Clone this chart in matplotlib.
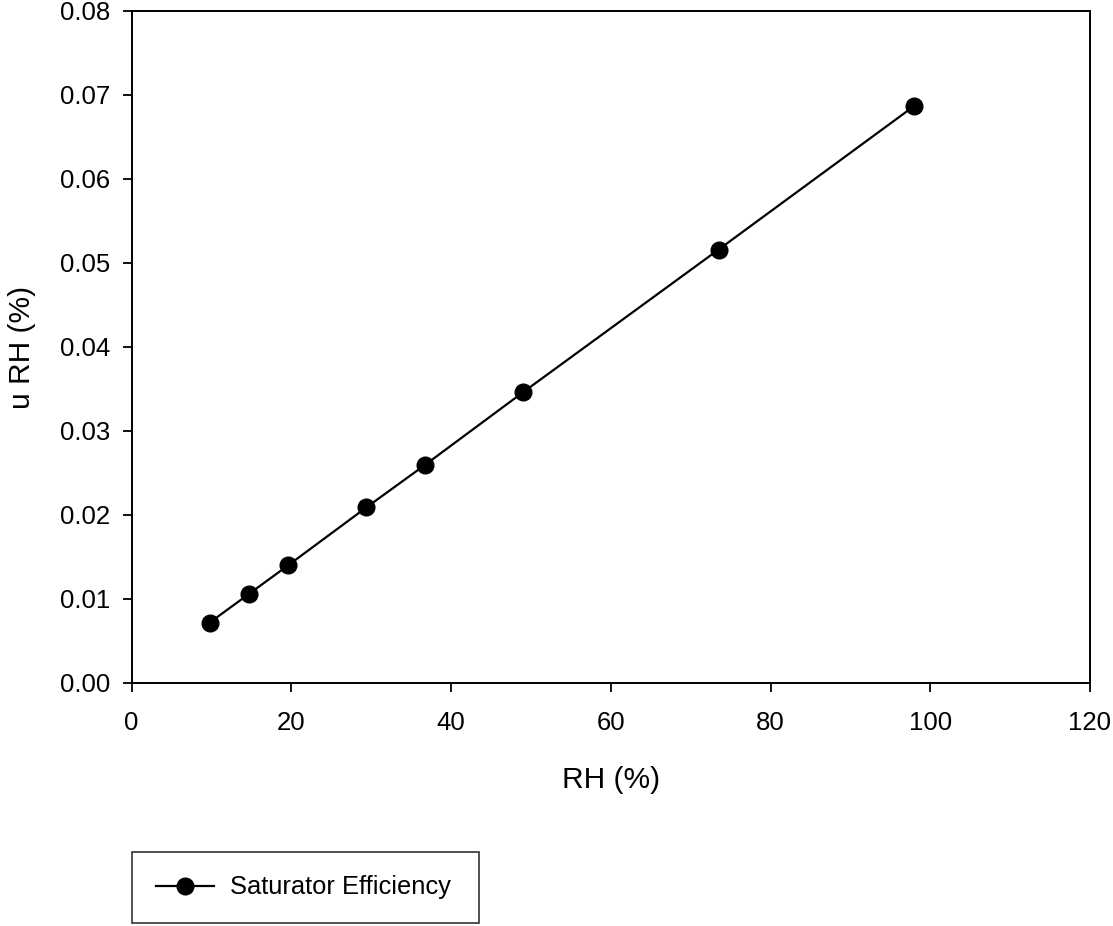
import matplotlib
matplotlib.use("Agg")
import matplotlib.pyplot as plt

plt.rcParams['font.family'] = ['Liberation Sans', 'DejaVu Sans']

rh = [9.8, 14.7, 19.6, 29.4, 36.8, 49.0, 73.5, 98.0]
u_rh = [0.0072, 0.0106, 0.0140, 0.0209, 0.0260, 0.0346, 0.0516, 0.0687]
series_label = "Saturator Efficiency"
xticks = [0, 20, 40, 60, 80, 100, 120]
yticks = [0.00, 0.01, 0.02, 0.03, 0.04, 0.05, 0.06, 0.07, 0.08]

W, H = 1113, 926
fig = plt.figure(figsize=(W / 100, H / 100), dpi=100)
ax = fig.add_axes([131.5 / W, 1 - 683 / H, (1090 - 131.5) / W, (683 - 11) / H])

line, = ax.plot(rh, u_rh, color='black', lw=1.6, marker='o', markersize=12,
                markerfacecolor='black', markeredgecolor='black', label=series_label)

ax.set_xlim(0, 120)
ax.set_ylim(0, 0.08)
ax.set_xticks(xticks)
ax.set_xticklabels([str(t) for t in xticks])
ax.set_yticks(yticks)
ax.set_yticklabels([f"{t:.2f}" for t in yticks])
ax.tick_params(direction='out', length=6.5, width=1.3, labelsize=18.5, colors='black')
ax.tick_params(axis='x', pad=14)
ax.tick_params(axis='y', pad=9)
for s in ax.spines.values():
    s.set_linewidth(1.4)
    s.set_color('black')

ax.set_xlabel("RH (%)", fontsize=21.5, labelpad=22)
ax.set_ylabel("u RH (%)", fontsize=21.5, labelpad=17)

leg = fig.legend(handles=[line], loc='lower left',
                 bbox_to_anchor=(132 / W, 3 / H, (479 - 132) / W, 70 / H),
                 mode='expand', frameon=True, fancybox=False, fontsize=18.4,
                 handlelength=2.3, borderpad=0.92, handletextpad=0.62,
                 borderaxespad=0)
leg.get_frame().set_edgecolor('black')
leg.get_frame().set_linewidth(1.2)

fig.savefig("out.png", dpi=100)
